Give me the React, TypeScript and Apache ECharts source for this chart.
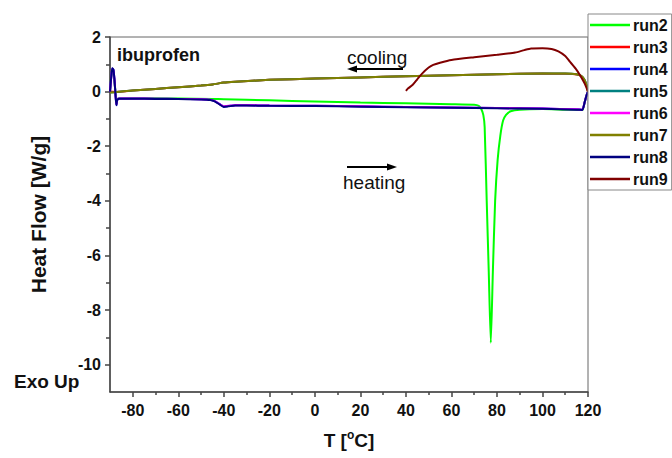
import React, { useEffect, useRef } from "react";
import * as echarts from "echarts";

const xMin = -90;
const xMax = 120;
const yMin = -11;
const yMax = 2;
const xLabelValues = [-80, -60, -40, -20, 0, 20, 40, 60, 80, 100, 120];
const xMinorTicks = [-70, -50, -30, -10, 10, 30, 50, 70, 90, 110];
const yLabelValues = [-10, -8, -6, -4, -2, 0, 2];
const yMinorTicks = [-9, -7, -5, -3, -1, 1];

const seriesNames = ["run2", "run3", "run4", "run5", "run6", "run7", "run8", "run9"];
const seriesColors = ["#00ff00", "#ff0000", "#0000ff", "#008080", "#ff00ff", "#808000", "#000080", "#800000"];

const run2 = [
  [-90, 0], [-89.4, 0.6], [-88.8, 0.8], [-88.2, 0.5], [-87.6, 0], [-87.1, -0.35], [-86.5, -0.25],
  [-80, -0.24], [-60, -0.25], [-45, -0.27], [-40, -0.28], [-20, -0.32], [0, -0.36], [20, -0.4],
  [40, -0.43], [60, -0.46], [70, -0.48], [72, -0.52], [73, -0.62], [74, -0.85], [74.6, -1.3],
  [75.5, -4], [76.4, -6.6], [77.3, -9.2], [78.2, -6.6], [79.2, -4], [80.3, -2.5], [81.5, -1.6],
  [82.7, -1.06], [84, -0.85], [86, -0.72], [90, -0.66], [100, -0.64], [110, -0.66], [117.5, -0.67],
  [118.5, -0.4], [119.3, -0.15], [120, 0],
];
const run3 = [
  [120, 0], [119.3, 0.24], [118.3, 0.44], [117, 0.57], [115, 0.63], [110, 0.65], [100, 0.66],
  [80, 0.64], [60, 0.6], [40, 0.56], [20, 0.52], [0, 0.48], [-20, 0.43], [-35, 0.36], [-40, 0.33],
  [-45, 0.26], [-50, 0.22], [-60, 0.16], [-70, 0.1], [-80, 0.04], [-88, -0.01], [-90, 0],
];
const run4 = [
  [-90, 0], [-89.5, 0.5], [-89, 0.85], [-88.5, 0.8], [-88, 0.4], [-87.6, -0.1], [-87.2, -0.5],
  [-86.8, -0.3], [-86, -0.25], [-80, -0.25], [-70, -0.26], [-60, -0.27], [-50, -0.28], [-46, -0.3],
  [-44, -0.35], [-42, -0.45], [-40, -0.55], [-38, -0.53], [-35, -0.5], [-30, -0.5], [-20, -0.51],
  [0, -0.52], [20, -0.54], [40, -0.56], [60, -0.58], [80, -0.6], [100, -0.62], [115, -0.65],
  [117.5, -0.66], [118.5, -0.4], [119.3, -0.15], [120, 0],
];
const run5 = [
  [120, 0], [119.3, 0.26], [118.3, 0.46], [117, 0.58], [115, 0.64], [110, 0.66], [100, 0.66],
  [80, 0.64], [60, 0.6], [40, 0.56], [20, 0.52], [0, 0.48], [-20, 0.43], [-35, 0.36], [-40, 0.33],
  [-45, 0.26], [-50, 0.22], [-60, 0.16], [-70, 0.1], [-80, 0.04], [-88, -0.02], [-90, -0.03],
];
const run6 = [
  [-90, 0], [-89.5, 0.5], [-89, 0.84], [-88.5, 0.78], [-88, 0.4], [-87.6, -0.1], [-87.2, -0.48],
  [-86.8, -0.3], [-86, -0.25], [-80, -0.25], [-70, -0.26], [-60, -0.27], [-50, -0.28], [-46, -0.3],
  [-44, -0.35], [-42, -0.45], [-40, -0.54], [-38, -0.52], [-35, -0.5], [-30, -0.5], [-20, -0.51],
  [0, -0.52], [20, -0.54], [40, -0.56], [60, -0.58], [80, -0.6], [100, -0.62], [115, -0.65],
  [117.5, -0.66], [118.5, -0.4], [119.3, -0.15], [120, 0],
];
const run7 = [
  [120, 0], [119.3, 0.25], [118.3, 0.45], [117, 0.58], [115, 0.64], [110, 0.66], [100, 0.66],
  [80, 0.64], [60, 0.6], [40, 0.56], [20, 0.52], [0, 0.48], [-20, 0.43], [-35, 0.36], [-40, 0.33],
  [-45, 0.26], [-50, 0.22], [-60, 0.16], [-70, 0.1], [-80, 0.04], [-88, -0.02], [-90, -0.03],
];
const run8 = [
  [-90, 0], [-89.5, 0.5], [-89, 0.86], [-88.5, 0.8], [-88, 0.4], [-87.6, -0.1], [-87.2, -0.5],
  [-86.8, -0.3], [-86, -0.26], [-80, -0.26], [-70, -0.27], [-60, -0.27], [-50, -0.29], [-46, -0.31],
  [-44, -0.36], [-42, -0.46], [-40, -0.56], [-38, -0.54], [-35, -0.51], [-30, -0.51], [-20, -0.52],
  [0, -0.53], [20, -0.55], [40, -0.57], [60, -0.59], [80, -0.61], [100, -0.63], [115, -0.66],
  [117.5, -0.67], [118.5, -0.4], [119.3, -0.15], [120, 0],
];
const run9 = [
  [120, 0], [118.5, 0.3], [116.5, 0.6], [114.5, 0.85], [112, 1.1], [110, 1.3], [107, 1.47],
  [104, 1.56], [100, 1.59], [95, 1.58], [92, 1.52], [88, 1.43], [80, 1.35], [70, 1.26], [60, 1.16],
  [55, 1.06], [52, 0.98], [50, 0.88], [47, 0.65], [45, 0.45], [43, 0.25], [41, 0.12], [40, 0.03],
];
const seriesData = [run2, run3, run4, run5, run6, run7, run8, run9];

const FONT = "'Liberation Sans', Arial, sans-serif";
const AXIS_COLOR = "#444";

export default function App() {
  const ref = useRef<HTMLDivElement>(null);
  useEffect(() => {
    if (!ref.current) return;
    const chart = echarts.init(ref.current, null, { renderer: "svg" });
    const option: any = {
      animation: false,
      backgroundColor: "#fff",
      textStyle: { fontFamily: FONT },
      grid: {
        left: 110, right: 84, top: 37, bottom: 66,
        show: true, borderColor: "#666", borderWidth: 1, backgroundColor: "transparent",
      },
      legend: {
        orient: "vertical",
        left: 588,
        top: 14,
        padding: [3, 4, 3, 2],
        icon: "rect",
        itemWidth: 40,
        itemHeight: 2.5,
        itemGap: 6,
        borderColor: "#888",
        borderWidth: 1,
        backgroundColor: "#fff",
        data: seriesNames,
        textStyle: { fontSize: 16, fontWeight: "bold", color: "#111", lineHeight: 16, padding: [0, 0, 0, -2] },
      },
      xAxis: [
        {
          type: "value", min: xMin, max: xMax, position: "bottom",
          name: "{a|T [}{s|o}{a|C]}",
          nameLocation: "middle", nameGap: 36,
          nameTextStyle: {
            rich: {
              a: { fontSize: 19, fontWeight: "bold", color: "#111", fontFamily: FONT, verticalAlign: "bottom", lineHeight: 22 },
              s: { fontSize: 12, fontWeight: "bold", color: "#111", fontFamily: FONT, verticalAlign: "bottom", lineHeight: 22, padding: [0, 0, 9, 0] },
            },
          },
          axisLine: { show: true, onZero: false, lineStyle: { color: AXIS_COLOR, width: 1.5 } },
          axisTick: { show: true, customValues: xLabelValues, length: 5, lineStyle: { color: AXIS_COLOR, width: 1.5 } },
          axisLabel: { customValues: xLabelValues, fontSize: 16, fontWeight: "bold", color: "#111", margin: 10 },
          splitLine: { show: false },
        },
        {
          type: "value", min: xMin, max: xMax, position: "bottom",
          axisLine: { show: false, onZero: false },
          axisTick: { show: true, customValues: xMinorTicks, length: 3, lineStyle: { color: AXIS_COLOR, width: 1.5 } },
          axisLabel: { show: false },
          splitLine: { show: false },
        },
      ],
      yAxis: [
        {
          type: "value", min: yMin, max: yMax, position: "left",
          name: "Heat Flow [W/g]",
          nameLocation: "middle", nameGap: 61,
          nameTextStyle: { fontSize: 21, fontWeight: "bold", color: "#111" },
          axisLine: { show: true, onZero: false, lineStyle: { color: AXIS_COLOR, width: 1.5 } },
          axisTick: { show: true, customValues: yLabelValues, length: 5, lineStyle: { color: AXIS_COLOR, width: 1.5 } },
          axisLabel: { customValues: yLabelValues, fontSize: 16, fontWeight: "bold", color: "#111", margin: 9 },
          splitLine: { show: false },
        },
        {
          type: "value", min: yMin, max: yMax, position: "left",
          axisLine: { show: false, onZero: false },
          axisTick: { show: true, customValues: yMinorTicks, length: 4, lineStyle: { color: AXIS_COLOR, width: 1.5 } },
          axisLabel: { show: false },
          splitLine: { show: false },
        },
      ],
      series: seriesNames.map((name, i) => ({
        name,
        type: "line",
        xAxisIndex: 0,
        yAxisIndex: 0,
        data: seriesData[i],
        symbol: "none",
        showSymbol: false,
        smooth: 0.2,
        lineStyle: { color: seriesColors[i], width: 2 },
        itemStyle: { color: seriesColors[i] },
      })),
      graphic: [
        { type: "text", x: 117, y: 55, style: { text: "ibuprofen", fontSize: 18, fontWeight: "bold", fontFamily: FONT, fill: "#111", align: "left", verticalAlign: "middle" } },
        { type: "text", x: 14, y: 381, style: { text: "Exo Up", fontSize: 19, fontWeight: "bold", fontFamily: FONT, fill: "#111", align: "left", verticalAlign: "middle" } },
        { type: "text", x: 347, y: 57, style: { text: "cooling", fontSize: 19, fontFamily: FONT, fill: "#111", align: "left", verticalAlign: "middle" } },
        { type: "text", x: 343, y: 182, style: { text: "heating", fontSize: 19, fontFamily: FONT, fill: "#111", align: "left", verticalAlign: "middle" } },
        { type: "line", shape: { x1: 403, y1: 69, x2: 354, y2: 69 }, style: { stroke: "#000", lineWidth: 1.8 } },
        { type: "polygon", shape: { points: [[347, 69], [357, 65.5], [357, 72.5]] }, style: { fill: "#000" } },
        { type: "line", shape: { x1: 347, y1: 167, x2: 390, y2: 167 }, style: { stroke: "#000", lineWidth: 1.8 } },
        { type: "polygon", shape: { points: [[397, 167], [387, 163.5], [387, 170.5]] }, style: { fill: "#000" } },
      ],
    };
    chart.setOption(option);
    return () => chart.dispose();
  }, []);
  return (
    <div
      ref={ref}
      style={{ position: "fixed", left: 0, top: 0, width: 672, height: 458, background: "#fff" }}
    />
  );
}
